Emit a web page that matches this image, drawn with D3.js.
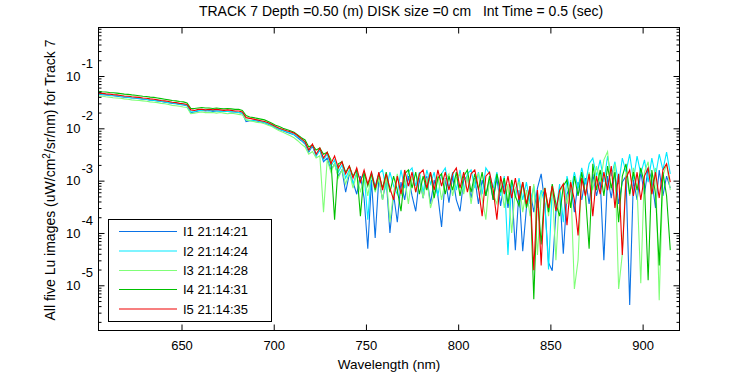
<!DOCTYPE html>
<html><head><meta charset="utf-8">
<script src="https://cdn.jsdelivr.net/npm/d3@7"></script>
<style>
body{margin:0;background:#fff}
svg{display:block;background:#fff}
text{font-family:"Liberation Sans",Arial,Helvetica,sans-serif;fill:#000}
</style>
</head><body>
<svg id="chart" width="750" height="375"></svg>
<script>
// ---------------- data ----------------
const wavelengths = [
 605,607,609,611,613,615,617,619,621,623,
 625,627,629,631,633,635,637,639,641,643,
 645,647,649,651,653,655,657,659,661,663,
 665,667,669,671,673,675,677,679,681,683,
 685,687,689,691,693,695,697,699,701,703,
 705,707,709,711,713,715,
 717,719,721,723,725,727,729,731,733,735,
 737,739,741,743,745,747,749,751,753,755,
 757,759,761,763,765,767,769,771,773,775,
 777,779,781,783,785,787,789,791,793,795,
 797,799,801,803,805,807,809,811,813,815,
 817,819,821,823,825,827,829,831,833,835,
 837,839,841,843,845,847,849,851,853,855,
 857,859,861,863,865,867,869,871,873,875,
 877,879,881,883,885,887,889,891,893,895,
 897,899,901,903,905,907,909,911,913,915
];

const seriesNames = ["I1 21:14:21","I2 21:14:24","I3 21:14:28","I4 21:14:31","I5 21:14:35"];
const seriesColors = ["#0a72e6","#00eaff","#80ff78","#00c000","#f00000"];

const luI1 = [
 4.5e-2,4.4e-2,4.35e-2,4.25e-2,4.2e-2,4.1e-2,4.0e-2,3.95e-2,3.9e-2,3.8e-2,
 3.75e-2,3.7e-2,3.6e-2,3.55e-2,3.45e-2,3.4e-2,3.35e-2,3.25e-2,3.15e-2,3.1e-2,
 3.0e-2,2.95e-2,2.85e-2,2.8e-2,2.7e-2,2.0e-2,2.05e-2,2.15e-2,2.2e-2,2.15e-2,
 2.2e-2,2.1e-2,2.15e-2,2.15e-2,2.1e-2,2.1e-2,2.05e-2,2.05e-2,2.0e-2,1.95e-2,
 1.35e-2,1.4e-2,1.42e-2,1.38e-2,1.32e-2,1.28e-2,1.2e-2,1.12e-2,1.02e-2,9.5e-3,
 9.0e-3,8.4e-3,8.0e-3,7.5e-3,6.6e-3,5.8e-3,
 5.0e-3,3.5e-3,4.6e-3,2.95e-3,3.85e-3,2.3e-3,2.7e-3,1.6e-3,2.1e-3,1.22e-3,
 1.6e-3,6.0e-4,1.35e-3,9.4e-4,5.5e-4,1.22e-3,4.65e-4,5.0e-5,1.03e-3,8.0e-5,
 1.12e-3,4.3e-4,1.03e-3,1.0e-4,5.5e-4,1.6e-4,9.4e-4,4.3e-4,1.22e-3,5.1e-4,
 2.6e-4,1.12e-3,4.65e-4,1.22e-3,3.6e-4,1.03e-3,5.1e-4,1.3e-4,1.12e-3,3.8e-4,
 1.22e-3,4.3e-4,2.6e-4,1.03e-3,1.22e-3,4.65e-4,1.12e-3,3.6e-4,1.03e-3,5.1e-4,
 1.03e-3,4.3e-4,1.12e-3,3.3e-4,9.4e-4,3.0e-4,7.9e-4,4.7e-5,6.6e-4,4.5e-5,
 3.0e-4,6.6e-4,2.5e-4,7.2e-4,1.35e-3,3.6e-4,2.7e-5,1.9e-5,2.5e-4,6.6e-4,
 4.0e-5,5.5e-4,8.6e-4,2.5e-4,9.4e-4,4.3e-4,1.12e-3,3.6e-4,1.35e-3,5.1e-4,
 1.03e-3,3.0e-5,1.22e-3,4.65e-4,1.45e-3,3.6e-4,9.4e-4,1.22e-3,4.2e-6,1.03e-3,
 4.3e-4,1.45e-3,5.5e-4,1.75e-3,1.03e-3,3.0e-4,1.6e-3,5.1e-4,1.22e-3,7.2e-4
];

const luI2 = [
 4.55e-2,4.5e-2,4.4e-2,4.3e-2,4.25e-2,4.2e-2,4.1e-2,4.0e-2,3.95e-2,3.85e-2,
 3.8e-2,3.75e-2,3.65e-2,3.6e-2,3.5e-2,3.45e-2,3.35e-2,3.3e-2,3.2e-2,3.1e-2,
 3.05e-2,3.0e-2,2.9e-2,2.85e-2,2.75e-2,2.05e-2,2.1e-2,2.2e-2,2.2e-2,2.2e-2,
 2.15e-2,2.2e-2,2.15e-2,2.1e-2,2.15e-2,2.1e-2,2.1e-2,2.05e-2,2.0e-2,1.95e-2,
 1.45e-2,1.42e-2,1.4e-2,1.4e-2,1.35e-2,1.3e-2,1.22e-2,1.14e-2,1.05e-2,9.7e-3,
 9.1e-3,8.6e-3,8.2e-3,7.6e-3,6.8e-3,6.0e-3,
 5.2e-3,3.7e-3,4.8e-3,3.0e-3,3.85e-3,2.5e-3,3.2e-3,1.9e-3,2.5e-3,1.45e-3,
 2.0e-3,1.12e-3,1.6e-3,8.6e-4,1.45e-3,1.03e-3,1.35e-3,1.8e-4,1.45e-3,7.9e-4,
 1.35e-3,1.6e-3,6.6e-4,1.45e-3,7.9e-4,5.5e-4,1.6e-3,7.2e-4,1.45e-3,1.75e-3,
 7.9e-4,1.45e-3,6.0e-4,1.6e-3,8.6e-4,1.45e-3,5.1e-4,1.35e-3,1.75e-3,7.2e-4,
 1.45e-3,6.6e-4,1.6e-3,6.0e-4,1.35e-3,1.6e-3,7.2e-4,1.45e-3,5.5e-4,1.75e-3,
 1.35e-3,7.2e-4,1.45e-3,5.1e-4,1.22e-3,3.8e-5,1.03e-3,4.65e-4,1.12e-3,4.3e-4,
 9.4e-4,3.6e-4,7.9e-4,3.0e-4,6.6e-4,3.6e-4,2.0e-5,7.2e-4,2.5e-4,8.6e-4,
 1.6e-4,1.22e-3,6.0e-4,1.45e-3,7.2e-4,1.75e-3,8.6e-4,2.1e-3,2.7e-3,1.22e-3,
 2.5e-3,9.4e-4,2.95e-3,1.22e-3,2.3e-3,8.6e-4,2.7e-3,1.45e-3,3.2e-3,1.03e-3,
 2.95e-3,1.35e-3,2.5e-3,9.4e-4,2.7e-3,1.22e-3,3.2e-3,1.6e-3,3.5e-3,1.35e-3
];

const luI3 = [
 4.2e-2,4.1e-2,4.0e-2,3.95e-2,3.85e-2,3.8e-2,3.75e-2,3.65e-2,3.6e-2,3.5e-2,
 3.45e-2,3.4e-2,3.35e-2,3.3e-2,3.2e-2,3.15e-2,3.1e-2,3.0e-2,2.95e-2,2.85e-2,
 2.75e-2,2.7e-2,2.65e-2,2.55e-2,2.5e-2,1.9e-2,1.95e-2,2.0e-2,2.05e-2,2.0e-2,
 2.0e-2,2.0e-2,1.95e-2,2.0e-2,1.95e-2,1.9e-2,1.95e-2,1.9e-2,1.85e-2,1.8e-2,
 1.45e-2,1.4e-2,1.35e-2,1.3e-2,1.28e-2,1.22e-2,1.15e-2,1.08e-2,9.8e-3,9.0e-3,
 8.4e-3,7.8e-3,7.2e-3,6.6e-3,5.8e-3,5.0e-3,
 4.4e-3,3.2e-3,3.6e-3,2.7e-3,3.0e-3,2.5e-4,2.5e-3,1.45e-3,2.1e-3,1.12e-3,
 1.6e-3,8.6e-4,1.45e-3,7.2e-4,1.35e-3,6.0e-4,1.22e-3,5.1e-4,1.35e-3,6.0e-4,
 1.12e-3,4.3e-4,1.22e-3,1.6e-4,6.0e-4,1.35e-3,5.1e-4,1.12e-3,3.6e-4,1.22e-3,
 6.0e-4,1.35e-3,4.65e-4,1.12e-3,3.0e-4,5.5e-4,1.22e-3,4.3e-4,1.03e-3,1.35e-3,
 5.1e-4,1.12e-3,1.35e-3,5.5e-4,1.22e-3,3.6e-4,1.03e-3,1.35e-3,4.65e-4,1.8e-4,
 1.12e-3,5.5e-4,3.6e-4,1.03e-3,3.0e-4,8.6e-4,1.0e-4,7.2e-4,9.4e-4,2.5e-4,
 6.6e-4,2.1e-4,8.6e-4,3.8e-5,5.5e-4,7.2e-4,2.1e-4,7.9e-4,3.0e-5,6.0e-4,
 8.6e-4,3.6e-4,1.03e-3,8.5e-6,3.0e-5,1.22e-3,5.1e-4,1.45e-3,6.6e-4,1.9e-3,
 9.4e-4,2.5e-3,3.6e-3,6.6e-4,2.1e-3,8.5e-6,4.0e-5,1.45e-3,5.1e-4,1.75e-3,
 7.2e-4,1.1e-5,1.45e-3,2.3e-3,5.5e-4,1.75e-3,5.2e-6,1.22e-3,2.1e-3,6.6e-4
];

const luI4 = [
 5.1e-2,5.0e-2,4.95e-2,4.85e-2,4.8e-2,4.7e-2,4.6e-2,4.5e-2,4.45e-2,4.35e-2,
 4.3e-2,4.2e-2,4.1e-2,4.05e-2,3.95e-2,3.9e-2,3.8e-2,3.7e-2,3.6e-2,3.5e-2,
 3.4e-2,3.35e-2,3.25e-2,3.2e-2,3.05e-2,2.4e-2,2.4e-2,2.45e-2,2.5e-2,2.45e-2,
 2.45e-2,2.4e-2,2.45e-2,2.4e-2,2.35e-2,2.4e-2,2.35e-2,2.3e-2,2.3e-2,2.2e-2,
 1.75e-2,1.65e-2,1.6e-2,1.55e-2,1.5e-2,1.45e-2,1.35e-2,1.25e-2,1.15e-2,1.08e-2,
 1.0e-2,9.5e-3,9.0e-3,8.4e-3,7.5e-3,6.6e-3,
 6.0e-3,4.4e-3,4.8e-3,3.85e-3,4.2e-3,3.2e-3,3.5e-3,2.5e-3,1.8e-4,2.1e-3,
 2.3e-3,1.45e-3,1.9e-3,1.22e-3,1.6e-3,2.1e-4,1.45e-3,7.9e-4,1.35e-3,6.6e-4,
 1.35e-3,7.2e-4,1.45e-3,6.0e-4,1.22e-3,6.6e-4,2.6e-4,1.35e-3,1.6e-3,7.2e-4,
 1.45e-3,5.5e-4,1.22e-3,6.6e-4,1.45e-3,4.65e-4,1.12e-3,1.35e-3,5.5e-4,1.22e-3,
 6.6e-4,1.45e-3,5.1e-4,1.22e-3,1.6e-3,6.0e-4,1.35e-3,6.6e-4,1.45e-3,5.1e-4,
 1.22e-3,4.3e-4,1.35e-3,6.0e-4,1.12e-3,3.6e-4,1.03e-3,5.1e-4,3.3e-4,9.4e-4,
 3.0e-4,7.9e-4,5.4e-6,6.0e-4,6.0e-5,7.2e-4,2.5e-4,8.6e-4,3.6e-4,2.1e-4,
 7.9e-4,1.03e-3,3.0e-4,1.22e-3,5.1e-4,1.45e-3,5.5e-4,5.0e-5,2.1e-3,6.6e-4,
 1.6e-3,5.1e-4,1.9e-3,7.2e-4,1.45e-3,1.6e-4,1.22e-3,2.1e-3,5.5e-4,1.45e-3,
 6.6e-4,1.75e-3,8.6e-4,1.25e-5,1.6e-3,5.5e-4,2.4e-5,1.45e-3,5.1e-4,4.7e-5
];

const luI5 = [
 4.7e-2,4.65e-2,4.55e-2,4.5e-2,4.4e-2,4.35e-2,4.25e-2,4.15e-2,4.1e-2,4.0e-2,
 3.95e-2,3.9e-2,3.8e-2,3.75e-2,3.65e-2,3.6e-2,3.5e-2,3.4e-2,3.35e-2,3.25e-2,
 3.15e-2,3.1e-2,3.0e-2,2.95e-2,2.85e-2,2.25e-2,2.2e-2,2.3e-2,2.3e-2,2.25e-2,
 2.3e-2,2.25e-2,2.3e-2,2.25e-2,2.2e-2,2.25e-2,2.2e-2,2.15e-2,2.15e-2,2.05e-2,
 1.6e-2,1.55e-2,1.5e-2,1.45e-2,1.4e-2,1.35e-2,1.28e-2,1.18e-2,1.08e-2,1.0e-2,
 9.5e-3,9.0e-3,8.6e-3,8.1e-3,7.2e-3,6.3e-3,
 5.5e-3,3.85e-3,5.0e-3,3.2e-3,4.2e-3,2.7e-3,3.5e-3,2.1e-3,2.95e-3,1.75e-3,
 2.3e-3,1.35e-3,1.9e-3,1.12e-3,1.75e-3,9.4e-4,1.6e-3,8.6e-4,1.45e-3,7.2e-4,
 1.45e-3,6.6e-4,1.35e-3,7.2e-4,4.3e-4,1.22e-3,5.5e-4,1.6e-3,7.9e-4,1.45e-3,
 6.0e-4,1.35e-3,1.6e-3,7.2e-4,1.45e-3,6.6e-4,1.6e-3,7.9e-4,1.45e-3,6.6e-4,
 1.35e-3,1.75e-3,7.2e-4,1.45e-3,6.0e-4,1.35e-3,1.6e-3,7.2e-4,2.1e-4,1.22e-3,
 1.45e-3,6.6e-4,1.8e-4,1.22e-3,5.5e-4,1.22e-3,4.65e-4,1.12e-3,4.3e-4,9.4e-4,
 3.6e-4,7.9e-4,1.95e-5,6.6e-4,2.4e-5,7.2e-4,3.0e-4,7.9e-4,2.6e-4,6.6e-4,
 8.6e-4,1.4e-4,9.4e-4,4.3e-4,9.0e-5,1.12e-3,5.1e-4,1.35e-3,2.1e-4,1.22e-3,
 5.5e-4,1.45e-3,6.6e-4,1.9e-3,3.0e-4,1.35e-3,3.8e-5,1.12e-3,1.6e-3,5.1e-4,
 1.45e-3,4.3e-4,1.22e-3,1.75e-3,5.5e-4,1.45e-3,4.65e-4,1.6e-3,2.1e-3,9.4e-4
];

const xTickValues = [650,700,750,800,850,900];
const yMajorExponents = [-5,-4,-3,-2,-1];
const titleText = "TRACK 7 Depth =0.50 (m) DISK size =0 cm   Int Time = 0.5 (sec)";
const xLabelText = "Wavelength (nm)";

// ---------------- layout ----------------
const plot = {left:98.5, right:679.5, top:27.5, bottom:330.5};
const svg = d3.select("#chart");
svg.append("rect").attr("width",750).attr("height",375).attr("fill","#fff");

const x = d3.scaleLinear().domain([605,920]).range([plot.left, plot.right]);
const y = d3.scaleLog().domain([Math.pow(10,-5.864), Math.pow(10,-0.073)]).range([plot.bottom, plot.top]);

svg.append("defs").append("clipPath").attr("id","clip")
  .append("rect").attr("x",plot.left).attr("y",plot.top)
  .attr("width",plot.right-plot.left).attr("height",plot.bottom-plot.top);

// ---------------- lines ----------------
const allSeries = [luI1, luI2, luI3, luI4, luI5];
const line = d3.line().x((d,i)=>x(wavelengths[i])).y(d=>y(d));
const g = svg.append("g").attr("clip-path","url(#clip)");
allSeries.forEach((s,k)=>{
  g.append("path").datum(s).attr("d",line)
   .attr("fill","none").attr("stroke",seriesColors[k]).attr("stroke-width",1.1)
   .attr("stroke-linejoin","miter");
});

// ---------------- axes ----------------
const [d0,d1] = y.domain();
const minorVals = [];
for (let e=-7;e<=0;e++) for (let m=2;m<=9;m++){ const v=m*Math.pow(10,e); if (v>=d0 && v<=d1) minorVals.push(v); }
const majorVals = yMajorExponents.map(e=>Math.pow(10,e));

function styleAxis(sel){
  sel.selectAll(".domain").remove();
  sel.selectAll(".tick line").attr("stroke","#000").attr("stroke-width",1);
}
const gb = svg.append("g").attr("transform",`translate(0,${plot.bottom})`)
  .call(d3.axisBottom(x).tickValues(xTickValues).tickSizeInner(-6).tickSizeOuter(0).tickPadding(10));
styleAxis(gb);
gb.selectAll(".tick text").attr("font-size",13).attr("font-family",'"Liberation Sans",Arial,sans-serif').attr("fill","#000");
const gt = svg.append("g").attr("transform",`translate(0,${plot.top})`)
  .call(d3.axisTop(x).tickValues(xTickValues).tickSizeInner(-6).tickSizeOuter(0).tickFormat(""));
styleAxis(gt);
const gl = svg.append("g").attr("transform",`translate(${plot.left},0)`)
  .call(d3.axisLeft(y).tickValues(majorVals).tickSizeInner(-6).tickSizeOuter(0).tickFormat(""));
styleAxis(gl);
const glm = svg.append("g").attr("transform",`translate(${plot.left},0)`)
  .call(d3.axisLeft(y).tickValues(minorVals).tickSizeInner(-3).tickSizeOuter(0).tickFormat(""));
styleAxis(glm);
const gr = svg.append("g").attr("transform",`translate(${plot.right},0)`)
  .call(d3.axisRight(y).tickValues(majorVals).tickSizeInner(-6).tickSizeOuter(0).tickFormat(""));
styleAxis(gr);
const grm = svg.append("g").attr("transform",`translate(${plot.right},0)`)
  .call(d3.axisRight(y).tickValues(minorVals).tickSizeInner(-3).tickSizeOuter(0).tickFormat(""));
styleAxis(grm);

svg.append("rect").attr("x",plot.left).attr("y",plot.top)
  .attr("width",plot.right-plot.left).attr("height",plot.bottom-plot.top)
  .attr("fill","none").attr("stroke","#000").attr("stroke-width",1);

yMajorExponents.forEach(e=>{
  const yy = y(Math.pow(10,e));
  svg.append("text").attr("x",80.5).attr("y",yy+4.7).attr("text-anchor","end")
    .attr("font-size",13).text("10");
  svg.append("text").attr("x",81.5).attr("y",yy-8).attr("text-anchor","start")
    .attr("font-size",13).text(String(e));
});

svg.append("text").attr("x",401).attr("y",16).attr("text-anchor","middle")
  .attr("font-size",14).style("white-space","pre").text(titleText);

svg.append("text").attr("x",389).attr("y",369).attr("text-anchor","middle")
  .attr("font-size",13.5).text(xLabelText);

const yl = svg.append("text").attr("transform","translate(55,180) rotate(-90)")
  .attr("text-anchor","middle").attr("font-size",14);
yl.append("tspan").text("All five Lu images (uW/cm");
yl.append("tspan").attr("dy",-5).attr("font-size",10).text("2");
yl.append("tspan").attr("dy",5).text("/sr/nm) for Track 7");

const leg = {x:108.5, y:219.5, w:163, h:102};
svg.append("rect").attr("x",leg.x).attr("y",leg.y).attr("width",leg.w).attr("height",leg.h)
  .attr("fill","#fff").attr("stroke","#000").attr("stroke-width",1);
const rowY = [231.5,251,270.5,289.5,309];
seriesNames.forEach((n,k)=>{
  svg.append("line").attr("x1",119).attr("x2",177).attr("y1",rowY[k]).attr("y2",rowY[k])
    .attr("stroke",seriesColors[k]).attr("stroke-width",1.2);
  svg.append("text").attr("x",183).attr("y",rowY[k]+4.6).attr("font-size",13).text(n);
});
</script>
</body></html>
